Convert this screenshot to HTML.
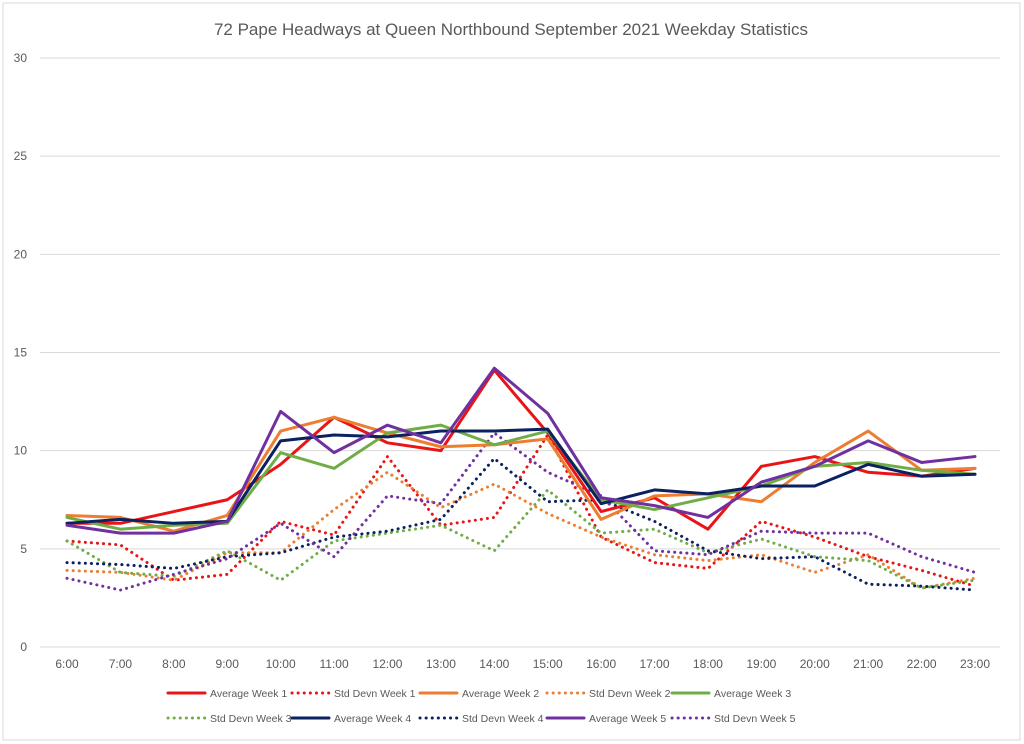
<!DOCTYPE html>
<html><head><meta charset="utf-8"><style>
body{margin:0;background:#fff;}
svg{display:block;font-family:"Liberation Sans",Calibri,sans-serif;}
</style></head><body>
<svg id="chart" width="1024" height="744">
<rect x="3" y="3" width="1017" height="737" fill="#fff" stroke="#d9d9d9"/>
<text x="511" y="35" text-anchor="middle" font-size="17" fill="#595959">72 Pape Headways at Queen Northbound September 2021 Weekday Statistics</text>
<g id="grid"></g><g id="series"></g><g id="legend"></g>
</svg>
<script>
const categories=["6:00","7:00","8:00","9:00","10:00","11:00","12:00","13:00","14:00","15:00","16:00","17:00","18:00","19:00","20:00","21:00","22:00","23:00"];
const yTicks=[0,5,10,15,20,25,30];
const avg1=[6.3,6.3,6.9,7.5,9.3,11.7,10.4,10.0,14.1,10.9,6.9,7.6,6.0,9.2,9.7,8.9,8.7,9.1];
const std1=[5.4,5.2,3.4,3.7,6.4,5.7,9.7,6.2,6.6,10.8,5.6,4.3,4.0,6.4,5.6,4.6,3.9,3.1];
const avg2=[6.7,6.6,5.9,6.7,11.0,11.7,10.9,10.2,10.3,10.6,6.5,7.7,7.8,7.4,9.4,11.0,9.0,9.1];
const std2=[3.9,3.8,3.4,4.8,4.8,7.0,8.9,7.1,8.3,6.8,5.6,4.7,4.4,4.7,3.8,4.7,3.0,3.5];
const avg3=[6.6,6.0,6.2,6.3,9.9,9.1,10.9,11.3,10.3,11.0,7.5,7.0,7.6,8.2,9.2,9.4,9.0,8.8];
const std3=[5.4,3.8,3.6,4.9,3.4,5.4,5.8,6.2,4.9,8.0,5.8,6.0,4.8,5.5,4.6,4.4,3.0,3.4];
const avg4=[6.3,6.5,6.3,6.4,10.5,10.8,10.7,11.0,11.0,11.1,7.3,8.0,7.8,8.2,8.2,9.3,8.7,8.8];
const std4=[4.3,4.2,4.0,4.6,4.8,5.6,5.9,6.5,9.6,7.4,7.5,6.4,4.9,4.5,4.6,3.2,3.1,2.9];
const avg5=[6.2,5.8,5.8,6.4,12.0,9.9,11.3,10.4,14.2,11.9,7.6,7.2,6.6,8.4,9.2,10.5,9.4,9.7];
const std5=[3.5,2.9,3.7,4.5,6.3,4.6,7.7,7.3,10.9,8.9,7.7,4.9,4.7,5.9,5.8,5.8,4.6,3.8];
const NS="http://www.w3.org/2000/svg";
const x0=67,x1=975,yB=647,yT=58,yMax=30;
const xs=i=>x0+i*(x1-x0)/(categories.length-1);
const ys=v=>yB-v*(yB-yT)/yMax;
function mk(t,a,p){const e=document.createElementNS(NS,t);for(const k in a)e.setAttribute(k,a[k]);p.appendChild(e);return e;}
const grid=document.getElementById('grid');
yTicks.forEach(v=>{
 const l=mk('line',{x1:40,x2:1000,y1:ys(v),y2:ys(v),stroke:'#d9d9d9','stroke-width':1},grid);
 
 
 const t=mk('text',{x:27,y:ys(v)+4,'text-anchor':'end','font-size':12,fill:'#595959'},grid);t.textContent=v;
 
 
});
categories.forEach((c,i)=>{
 const t=mk('text',{x:xs(i),y:668,'text-anchor':'middle','font-size':12,fill:'#595959'},grid);t.textContent=c;
 
 
});
const series=[
 {n:'Average Week 1',d:avg1,c:'#e81416',dot:false},
 {n:'Std Devn Week 1',d:std1,c:'#e81416',dot:true},
 {n:'Average Week 2',d:avg2,c:'#ed7d31',dot:false},
 {n:'Std Devn Week 2',d:std2,c:'#ed7d31',dot:true},
 {n:'Average Week 3',d:avg3,c:'#70ad47',dot:false},
 {n:'Std Devn Week 3',d:std3,c:'#70ad47',dot:true},
 {n:'Average Week 4',d:avg4,c:'#0b2160',dot:false},
 {n:'Std Devn Week 4',d:std4,c:'#0b2160',dot:true},
 {n:'Average Week 5',d:avg5,c:'#7030a0',dot:false},
 {n:'Std Devn Week 5',d:std5,c:'#7030a0',dot:true}];
const sg=document.getElementById('series');
const order=[1,3,5,7,9,0,2,4,6,8];
order.forEach(k=>{const s=series[k];
 const p=mk('polyline',{points:s.d.map((v,i)=>xs(i)+','+ys(v)).join(' '),fill:'none',stroke:s.c,'stroke-width':3,'stroke-linejoin':'round','stroke-linecap':'round','stroke-dasharray':s.dot?'0.1 6':'none'},sg);
 
 
});
const lg=document.getElementById('legend');
const lx=[168,292,420,547,672];
series.forEach((s,i)=>{
 const row=Math.floor(i/5),col=i%5,y=693+row*25,x=lx[col];
 const g=mk('g',{},lg);
 
 
 mk('line',{x1:x,x2:x+37,y1:y,y2:y,stroke:s.c,'stroke-width':3,'stroke-linecap':'round','stroke-dasharray':s.dot?'0.1 6':'none'},g);
 const t=mk('text',{x:x+42,y:y+4,'font-size':10.5,fill:'#595959'},g);t.textContent=s.n;
});
</script>
</body></html>
